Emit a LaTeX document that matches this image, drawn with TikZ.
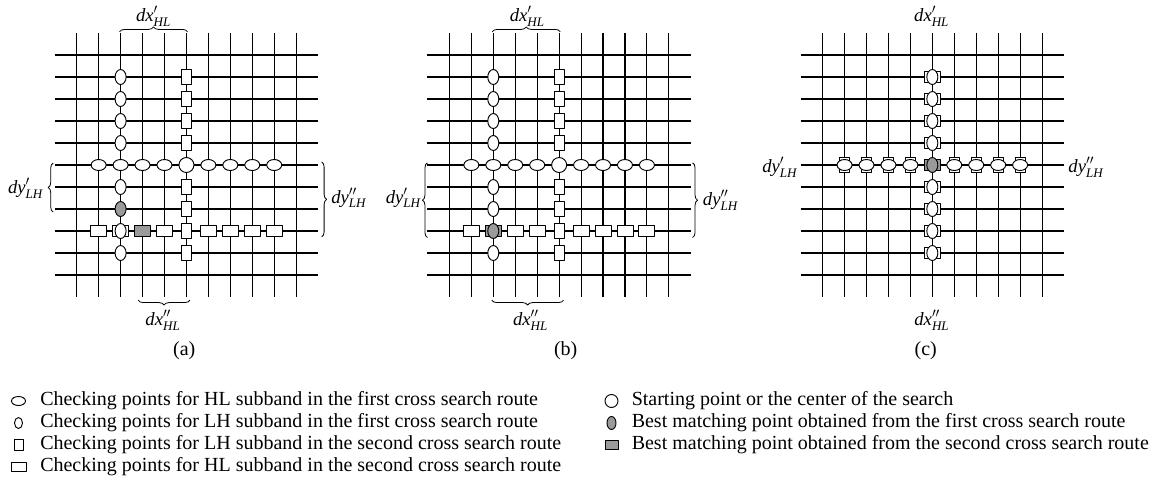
\documentclass[tikz,border=0pt]{standalone}
\usepackage{fontspec}
\setmainfont{Liberation Serif}
\usepackage{tikz}
\usetikzlibrary{shapes.geometric, decorations.pathreplacing, positioning}
\definecolor{bestgray}{HTML}{9A9A9A}

\tikzset{
  gridline/.style={line width=0.8pt},
  chk/.style={draw, fill=white, line width=0.7pt, inner sep=0pt},
  hlone/.style={chk, ellipse, minimum width=11.25pt, minimum height=8.25pt},
  lhone/.style={chk, ellipse, minimum width=8.25pt, minimum height=11.25pt},
  lhtwo/.style={chk, rectangle, minimum width=7.5pt, minimum height=11.6pt},
  hltwo/.style={chk, rectangle, minimum width=12pt, minimum height=8pt},
  startpt/.style={chk, circle, minimum size=11.25pt},
  best/.style={fill=bestgray},
  curly/.style={decorate, decoration={brace, amplitude=3.75pt}, line width=0.6pt},
  lbl/.style={font=\fontsize{14}{17}\selectfont, inner sep=0pt},
  subcap/.style={font=\fontsize{15}{18}\selectfont, inner sep=0pt},
}

\begin{document}
\begin{tikzpicture}[x=0.75pt, y=-0.75pt, line join=round]
  \useasboundingbox (0,0) rectangle (1157,476);
  % Search grids
  \foreach \ox in {76.7, 449.4, 822.6} {
    \begin{scope}[shift={(\ox,55)}, x=16.46pt, y=-16.5pt]
      \foreach \k in {0,...,10} {
        \draw[gridline] (\k,-1) -- (\k,11);
        \draw[gridline] (-1,\k) -- (11,\k);
      }
    \end{scope}
  }

  % (a)
  \begin{scope}[shift={(76.7,55)}, x=16.46pt, y=-16.5pt]
    \foreach \i in {1,2,4,6,7,8,9}
      \node[hltwo] (a-r\i) at (\i,8) {};
    \node[hltwo, best] (a-r3) at (3,8) {};
    \foreach \j in {1,2,3,4,6,7,8,9}
      \node[lhtwo] (a-s\j) at (5,\j) {};
    \foreach \i in {1,2,3,4,6,7,8,9}
      \node[hlone] (a-h\i) at (\i,5) {};
    \foreach \j in {1,2,3,4,6,8,9}
      \node[lhone] (a-v\j) at (2,\j) {};
    \node[lhone, best] (a-v7) at (2,7) {};
    \node[startpt] (a-o) at (5,5) {};
    \draw[curly] (1.95,-1.05) -- (5.05,-1.05);
    \node[lbl] (a-dx1) at (3.5,-1.75) {$\mathit{dx}'_{\mathit{HL}}$};
    \draw[curly] (-1.07,7.14) -- (-1.07,4.91);
    \node[lbl] (a-dy1) at (-2.33,6.05) {$\mathit{dy}'_{\mathit{LH}}$};
    \draw[curly] (11.16,4.86) -- (11.16,8.27);
    \node[lbl] (a-dy2) at (12.4,6.5) {$\mathit{dy}''_{\mathit{LH}}$};
    \draw[curly] (5.16,11.14) -- (2.8,11.14);
    \node[lbl] (a-dx2) at (3.93,12.05) {$\mathit{dx}''_{\mathit{HL}}$};
    \node[subcap] (a-cap) at (4.9,13.45) {(a)};
  \end{scope}

  % (b)
  \begin{scope}[shift={(449.4,55)}, x=16.46pt, y=-16.5pt]
    \foreach \i in {1,3,4,6,7,8,9}
      \node[hltwo] (b-r\i) at (\i,8) {};
    \node[hltwo, best] (b-r2) at (2,8) {};
    \foreach \j in {1,2,3,4,6,7,8,9}
      \node[lhtwo] (b-s\j) at (5,\j) {};
    \foreach \i in {1,2,3,4,6,7,8,9}
      \node[hlone] (b-h\i) at (\i,5) {};
    \foreach \j in {1,2,3,4,6,7,9}
      \node[lhone] (b-v\j) at (2,\j) {};
    \node[lhone, best] (b-v8) at (2,8) {};
    \node[startpt] (b-o) at (5,5) {};
    \draw[curly] (1.95,-1.05) -- (5.05,-1.05);
    \node[lbl] (b-dx1) at (3.55,-1.75) {$\mathit{dx}'_{\mathit{HL}}$};
    \draw[curly] (-1.0,8.3) -- (-1.0,4.9);
    \node[lbl] (b-dy1) at (-2.1,6.5) {$\mathit{dy}'_{\mathit{LH}}$};
    \draw[curly] (11.08,4.9) -- (11.08,8.3);
    \node[lbl] (b-dy2) at (12.35,6.6) {$\mathit{dy}''_{\mathit{LH}}$};
    \draw[curly] (5.2,11.14) -- (1.93,11.14);
    \node[lbl] (b-dx2) at (3.7,12.05) {$\mathit{dx}''_{\mathit{HL}}$};
    \node[subcap] (b-cap) at (5.3,13.45) {(b)};
  \end{scope}

  % (c)
  \begin{scope}[shift={(822.6,55)}, x=16.46pt, y=-16.5pt]
    \foreach \j in {1,2,3,4,6,7,8,9} {
      \node[hltwo] (c-r\j) at (5,\j) {};
      \node[lhone] (c-v\j) at (5,\j) {};
    }
    \foreach \i in {1,2,3,4,6,7,8,9} {
      \node[lhtwo] (c-s\i) at (\i,5) {};
      \node[hlone] (c-h\i) at (\i,5) {};
    }
    \node[hltwo, best] (c-r5) at (5,5) {};
    \node[lhone, best] (c-v5) at (5,5) {};
    \node[lbl] (c-dx1) at (4.97,-1.75) {$\mathit{dx}'_{\mathit{HL}}$};
    \node[lbl] (c-dy1) at (-1.95,5.1) {$\mathit{dy}'_{\mathit{LH}}$};
    \node[lbl] (c-dy2) at (12.0,5.1) {$\mathit{dy}''_{\mathit{LH}}$};
    \node[lbl] (c-dx2) at (4.98,12.05) {$\mathit{dx}''_{\mathit{HL}}$};
    \node[subcap] (c-cap) at (4.7,13.45) {(c)};
  \end{scope}

  % Legend
  \node[hlone, minimum width=10.5pt, minimum height=6.75pt] (k1) at (18.5,401) {};
  \node[lhone, minimum width=6pt, minimum height=8.25pt] (k2) at (18.5,423) {};
  \node[lhtwo, minimum width=6.75pt, minimum height=8.25pt] (k3) at (18.5,445) {};
  \node[hltwo, minimum width=11.25pt, minimum height=6.75pt] (k4) at (18.5,467) {};
  \node[subcap, anchor=west] (t1) at (40,401) {Checking points for HL subband in the first cross search route};
  \node[subcap, anchor=west] (t2) at (40,423) {Checking points for LH subband in the first cross search route};
  \node[subcap, anchor=west] (t3) at (40,445) {Checking points for LH subband in the second cross search route};
  \node[subcap, anchor=west] (t4) at (40,467) {Checking points for HL subband in the second cross search route};
  \node[startpt, minimum size=9.75pt] (k5) at (611.5,401) {};
  \node[lhone, best, minimum width=6.75pt, minimum height=9.75pt] (k6) at (611.5,423) {};
  \node[hltwo, best, minimum width=9.75pt, minimum height=6.75pt] (k7) at (611.5,445) {};
  \node[subcap, anchor=west] (t5) at (631.5,401) {Starting point or the center of the search};
  \node[subcap, anchor=west] (t6) at (631.5,423) {Best matching point obtained from the first cross search route};
  \node[subcap, anchor=west] (t7) at (631.5,445) {Best matching point obtained from the second cross search route};
\end{tikzpicture}
\end{document}
